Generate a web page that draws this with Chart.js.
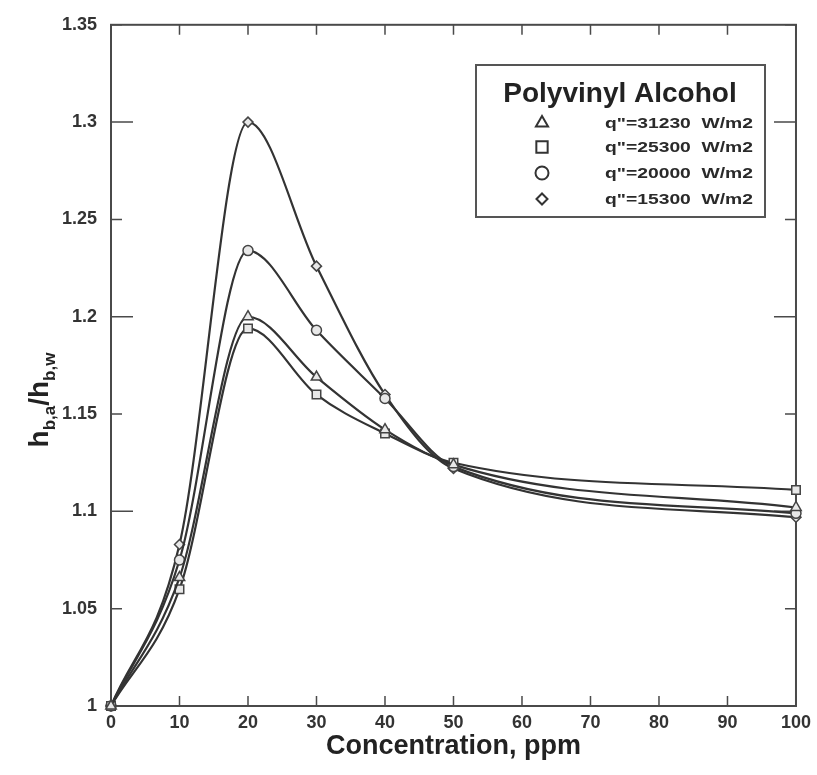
<!DOCTYPE html>
<html>
<head>
<meta charset="utf-8">
<script src="https://cdn.jsdelivr.net/npm/chart.js@4.4.1/dist/chart.umd.min.js"></script>
<style>
  html, body { margin: 0; padding: 0; background: #fff; }
  #wrap { width: 817px; height: 775px; }
</style>
</head>
<body>
<div id="wrap"><canvas id="myChart" width="817" height="775"></canvas></div>
<script>
// concentration, ppm
const concentration = [0, 10, 20, 30, 40, 50, 100];

// h_b,a / h_b,w
const q31230 = [1.000, 1.066, 1.200, 1.169, 1.142, 1.124, 1.102];
const q25300 = [1.000, 1.060, 1.194, 1.160, 1.140, 1.125, 1.111];
const q20000 = [1.000, 1.075, 1.234, 1.193, 1.158, 1.123, 1.099];
const q15300 = [1.000, 1.083, 1.300, 1.226, 1.160, 1.122, 1.097];

const seriesLabels = ['q"=31230  W/m2', 'q"=25300  W/m2', 'q"=20000  W/m2', 'q"=15300  W/m2'];
const seriesMarkers = ['triangle', 'rect', 'circle', 'rectRot'];
const legendTitle = 'Polyvinyl Alcohol';

const lineColor = '#333333';
const axisColor = '#4a4a4a';
const markerRadius = { triangle: 6, rect: 6, circle: 5, rectRot: 5 };
const legendRadius = { triangle: 7, rect: 8, circle: 6.5, rectRot: 5.5 };

function toPoints(values) {
    return concentration.map(function (c, i) {
        return { x: c, y: values[i] };
    });
}

const allSeries = [q31230, q25300, q20000, q15300];

const datasets = allSeries.map(function (values, i) {
    return {
        label: seriesLabels[i],
        data: toPoints(values),
        borderColor: lineColor,
        borderWidth: 2.2,
        backgroundColor: '#ffffff',
        pointStyle: seriesMarkers[i],
        pointRadius: markerRadius[seriesMarkers[i]],
        pointBorderColor: '#444',
        pointBackgroundColor: '#e8e8e8',
        pointBorderWidth: 1.5,
        cubicInterpolationMode: 'monotone',
        clip: false
    };
});

// frame, inner ticks, y title and the boxed legend
const decorations = {
    id: 'decorations',
    beforeDatasetsDraw: function (chart) {
        const ctx = chart.ctx;
        const a = chart.chartArea;
        const x = chart.scales.x;
        const y = chart.scales.y;
        ctx.save();
        ctx.strokeStyle = axisColor;
        ctx.lineWidth = 2;
        ctx.strokeRect(a.left, a.top, a.right - a.left, a.bottom - a.top);

        ctx.lineWidth = 1.5;
        y.ticks.forEach(function (t) {
            const py = y.getPixelForValue(t.value);
            const major = Math.round(t.value * 100) % 10 === 0;
            const len = major ? 22 : 11;
            ctx.beginPath();
            ctx.moveTo(a.left, py);
            ctx.lineTo(a.left + len, py);
            ctx.moveTo(a.right, py);
            ctx.lineTo(a.right - len, py);
            ctx.stroke();
        });
        x.ticks.forEach(function (t) {
            const px = x.getPixelForValue(t.value);
            ctx.beginPath();
            ctx.moveTo(px, a.bottom);
            ctx.lineTo(px, a.bottom - 10);
            ctx.moveTo(px, a.top);
            ctx.lineTo(px, a.top + 10);
            ctx.stroke();
        });
        ctx.restore();
    },
    afterDraw: function (chart) {
        const ctx = chart.ctx;
        ctx.save();

        // y axis title with subscripts
        const big = 'bold 28px "Liberation Sans", Arial, sans-serif';
        const small = 'bold 17px "Liberation Sans", Arial, sans-serif';
        const parts = [['h', big, 0], ['b,a', small, 7], ['/h', big, 0], ['b,w', small, 7]];
        let total = 0;
        parts.forEach(function (p) { ctx.font = p[1]; total += ctx.measureText(p[0]).width; });
        ctx.translate(48, 400);
        ctx.rotate(-Math.PI / 2);
        ctx.fillStyle = '#222';
        ctx.textBaseline = 'alphabetic';
        ctx.textAlign = 'left';
        let cx = -total / 2;
        parts.forEach(function (p) {
            ctx.font = p[1];
            ctx.fillText(p[0], cx, p[2]);
            cx += ctx.measureText(p[0]).width;
        });
        ctx.restore();

        // legend box
        ctx.save();
        const box = { left: 476, top: 65, right: 765, bottom: 217 };
        ctx.fillStyle = '#fff';
        ctx.fillRect(box.left, box.top, box.right - box.left, box.bottom - box.top);
        ctx.strokeStyle = '#555';
        ctx.lineWidth = 2;
        ctx.strokeRect(box.left, box.top, box.right - box.left, box.bottom - box.top);

        ctx.fillStyle = '#222';
        ctx.font = 'bold 28px "Liberation Sans", Arial, sans-serif';
        ctx.textAlign = 'center';
        ctx.textBaseline = 'middle';
        ctx.fillText(legendTitle, 620, 94);

        const rows = [123, 147, 173, 199];
        ctx.textAlign = 'left';
        seriesLabels.forEach(function (lab, i) {
            const ry = rows[i];
            ctx.font = 'bold 14px "Liberation Sans", Arial, sans-serif';
            ctx.fillStyle = '#2a2a2a';
            const w = ctx.measureText(lab).width;
            ctx.save();
            ctx.translate(605, ry);
            ctx.scale(148 / w, 1);
            ctx.fillText(lab, 0, 1);
            ctx.restore();
            ctx.fillStyle = '#ffffff';
            ctx.strokeStyle = '#333';
            ctx.lineWidth = 2;
            Chart.helpers.drawPoint(ctx, {
                pointStyle: seriesMarkers[i],
                radius: legendRadius[seriesMarkers[i]],
                borderWidth: 2
            }, 542, ry);
        });
        ctx.restore();
    }
};

const chartConfig = {
    type: 'line',
    data: { datasets: datasets },
    options: {
        responsive: false,
        animation: false,
        layout: {
            padding: { left: 0, right: 20, top: 22, bottom: 0 }
        },
        scales: {
            x: {
                type: 'linear',
                min: 0,
                max: 100,
                grid: { display: false, drawTicks: false },
                border: { display: false },
                ticks: {
                    stepSize: 10,
                    padding: 6,
                    color: '#333',
                    font: { family: '"Liberation Sans", Arial, sans-serif', size: 18, weight: 'bold' }
                },
                title: {
                    display: true,
                    text: 'Concentration, ppm',
                    color: '#222',
                    padding: { top: 0, bottom: 12 },
                    font: { family: '"Liberation Sans", Arial, sans-serif', size: 27, weight: 'bold' }
                },
                afterFit: function (scale) { scale.height = 69; }
            },
            y: {
                min: 1,
                max: 1.35,
                grid: { display: false, drawTicks: false },
                border: { display: false },
                ticks: {
                    stepSize: 0.05,
                    padding: 14,
                    color: '#333',
                    font: { family: '"Liberation Sans", Arial, sans-serif', size: 18, weight: 'bold' },
                    callback: function (value) {
                        return String(+value.toFixed(2));
                    }
                },
                afterFit: function (scale) { scale.width = 111; }
            }
        },
        plugins: {
            legend: { display: false },
            tooltip: { enabled: false }
        }
    },
    plugins: [decorations]
};

const ctx = document.getElementById('myChart').getContext('2d');
const myChart = new Chart(ctx, chartConfig);
</script>
</body>
</html>
